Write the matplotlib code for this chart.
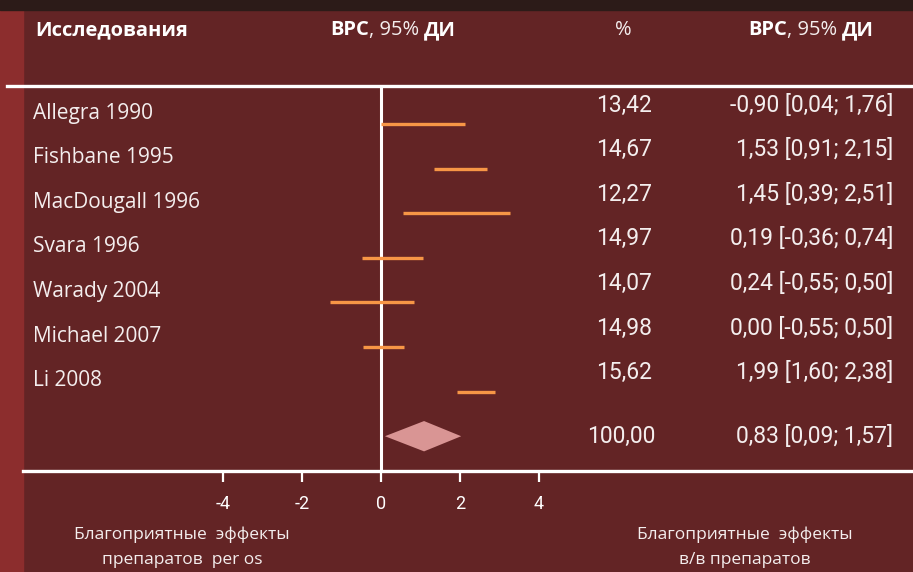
import matplotlib.pyplot as plt
import matplotlib.transforms as mtransforms
from matplotlib.patches import Rectangle, Polygon
from matplotlib.lines import Line2D

# study rows (CI ends)
studies = ['Allegra 1990', 'Fishbane 1995', 'MacDougall 1996', 'Svara 1996',
           'Warady 2004', 'Michael 2007', 'Li 2008']
ci_low = [0.0, 1.34, 0.56, -0.48, -1.29, -0.46, 1.92]
ci_high = [2.13, 2.68, 3.27, 1.06, 0.84, 0.58, 2.89]
weights = ['13,42', '14,67', '12,27', '14,97', '14,07', '14,98', '15,62']
ci_text = ['-0,90 [0,04; 1,76]', '1,53 [0,91; 2,15]', '1,45 [0,39; 2,51]',
           '0,19 [-0,36; 0,74]', '0,24 [-0,55; 0,50]', '0,00 [-0,55; 0,50]',
           '1,99 [1,60; 2,38]']

# pooled estimate (diamond)
pooled_low, pooled_mid, pooled_high = 0.10, 1.09, 2.03
pooled_weight = '100,00'
pooled_text = '0,83 [0,09; 1,57]'

xticks = [-4, -2, 0, 2, 4]

W, H = 913, 572
bg = '#632425'
txt = '#f4eeee'

fig = plt.figure(figsize=(W / 100, H / 100), dpi=100)
fig.patch.set_facecolor(bg)

# backdrop strips
fig.add_artist(Rectangle((0, 0), 23 / W, 1, transform=fig.transFigure,
                         color='#8c2d2d', zorder=0))
fig.add_artist(Rectangle((0, 1 - 10 / H), 1, 10 / H, transform=fig.transFigure,
                         color='#2c1b18', zorder=0))

# white rules
fig.add_artist(Line2D([7 / W, 1], [1 - 86 / H] * 2, transform=fig.transFigure,
                      color='white', lw=2.4))
fig.add_artist(Line2D([23 / W, 1], [1 - 471 / H] * 2, transform=fig.transFigure,
                      color='white', lw=2.4))

# forest plot area
ax = fig.add_axes([181 / W, (H - 471) / H, 400 / W, 385 / H])
ax.set_facecolor('none')
ax.set_xlim(-200 / 39.5, 200 / 39.5)
ax.set_ylim(7.78, -0.852)
for sp in ax.spines.values():
    sp.set_visible(False)

ax.axvline(0, color='white', lw=2.2)
rows = list(range(len(studies)))
ax.hlines(rows, ci_low, ci_high, color='#f79646', lw=2.4)

pr = len(studies)
ax.add_patch(Polygon([(pooled_low, pr), (pooled_mid, pr - 0.34),
                      (pooled_high, pr), (pooled_mid, pr + 0.34)],
                     closed=True, color='#d99594', lw=0))

ax.set_yticks([])
ax.set_xticks(xticks)
ax.set_xticklabels([str(t) for t in xticks], family='Roboto', fontsize=13,
                   color='#ece4e4')
ax.tick_params(axis='x', colors='white', length=8, width=1.6, pad=9)

# row texts
row_tr = mtransforms.blended_transform_factory(fig.transFigure, ax.transData)
lab_tr = mtransforms.offset_copy(row_tr, fig=fig, y=11, units='dots')
num_tr = mtransforms.offset_copy(row_tr, fig=fig, y=19, units='dots')

for i, s in enumerate(studies):
    ax.text(33 / W, i, s, transform=lab_tr, ha='left', va='center',
            fontsize=15, family='Open Sans', color=txt)
    ax.text(652 / W, i, weights[i], transform=num_tr, ha='right', va='center',
            fontsize=16.5, family='Roboto', color=txt)
    ax.text(893 / W, i, ci_text[i], transform=num_tr, ha='right', va='center',
            fontsize=16.5, family='Roboto', color=txt)

ax.text(655 / W, pr, pooled_weight, transform=row_tr, ha='right', va='center',
        fontsize=16.5, family='Roboto', color=txt)
ax.text(893 / W, pr, pooled_text, transform=row_tr, ha='right', va='center',
        fontsize=16.5, family='Roboto', color=txt)

# header
hy = 1 - 30 / H
fig.text(35 / W, hy, 'Исследования', ha='left', va='center', fontsize=14.5,
         fontweight='bold', family='Open Sans', color='white')
fig.text(623 / W, hy, '%', ha='center', va='center', fontsize=14.5,
         family='Open Sans', color=txt)


def mixed_header(x):
    t1 = fig.text(x / W, hy, 'ВРС', ha='left', va='center', fontsize=14.5,
                  fontweight='bold', family='Open Sans', color='white')
    t2 = ax.annotate(', 95%', xy=(1, 0), xycoords=t1, ha='left', va='bottom',
                     fontsize=14.5, family='Open Sans', color=txt,
                     annotation_clip=False)
    ax.annotate('ДИ', xy=(1, 0), xycoords=t2, xytext=(5, 0),
                textcoords='offset pixels', ha='left', va='bottom',
                fontsize=14.5, fontweight='bold', family='Open Sans',
                color='white', annotation_clip=False)


mixed_header(330)
mixed_header(748)

# bottom captions
cap = dict(ha='center', va='center', fontsize=12.5, family='Open Sans', color=txt)
fig.text(182 / W, 1 - 535 / H, 'Благоприятные  эффекты', **cap)
fig.text(182 / W, 1 - 560 / H, 'препаратов  per os', **cap)
fig.text(745 / W, 1 - 535 / H, 'Благоприятные  эффекты', **cap)
fig.text(745 / W, 1 - 560 / H, 'в/в препаратов', **cap)

fig.savefig('out.png', dpi=100, facecolor=fig.get_facecolor())
